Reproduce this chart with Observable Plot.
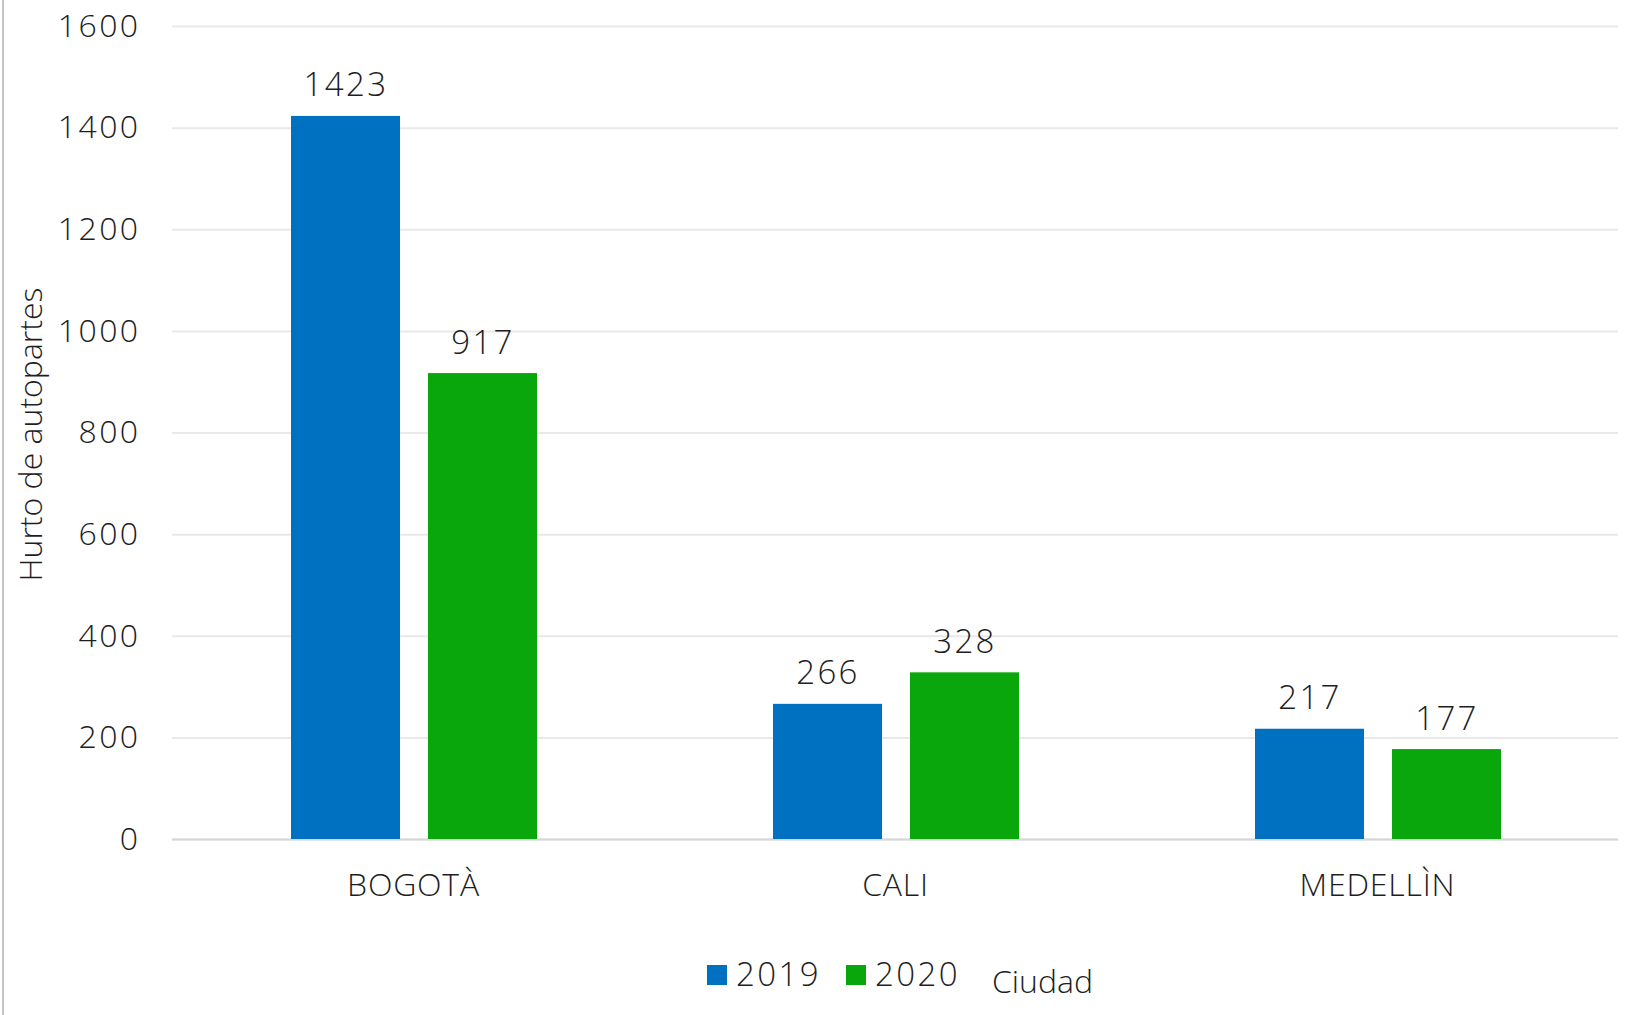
<!DOCTYPE html>
<html>
<head>
<meta charset="utf-8">
<script src="https://cdn.jsdelivr.net/npm/d3@7"></script>
<script src="https://cdn.jsdelivr.net/npm/@observablehq/plot@0.6"></script>
<style>
  html, body { margin: 0; padding: 0; background: #fff; }
  #wrap { position: relative; width: 1634px; height: 1015px; overflow: hidden; font-family: "Open Sans", sans-serif; font-weight: 300; }
  #frame { position: absolute; left: 2px; top: 0; width: 2px; height: 1015px; background: #c4c4c4; }
  #chart { position: absolute; left: 0; top: 0; }
  #legend { position: absolute; left: 0; top: 940px; }
  svg text { font-family: "Open Sans", sans-serif; font-weight: 300; }
</style>
</head>
<body>
<div id="wrap">
  <div id="frame"></div>
  <div id="chart"></div>
  <svg id="legend" width="1634" height="75"></svg>
</div>
<script>
const cities = ["BOGOTÀ", "CALI", "MEDELLÌN"];
const years = ["2019", "2020"];
const values2019 = [1423, 266, 217];
const values2020 = [917, 328, 177];
const yTicks = [0, 200, 400, 600, 800, 1000, 1200, 1400, 1600];
const colors = ["#0070c0", "#09a70c"];
const yLabel = "Hurto de autopartes";
const xTitle = "Ciudad";

const data = [];
cities.forEach((c, i) => {
  data.push({city: c, year: years[0], value: values2019[i]});
  data.push({city: c, year: years[1], value: values2020[i]});
});

const textColor = "#1e1e1e";

const chart = Plot.plot({
  width: 1634,
  height: 940,
  marginLeft: 172,
  marginRight: 16,
  marginTop: 26,
  marginBottom: 101,
  style: {fontFamily: "Open Sans, sans-serif", fontWeight: 300, color: textColor, background: "transparent"},
  fx: {domain: cities, padding: 0, axis: null, label: null},
  x: {domain: years, paddingInner: 0.2065, paddingOuter: 0.85, axis: null, label: null},
  y: {domain: [0, 1600], axis: null, label: null},
  color: {domain: years, range: colors},
  marks: [
    Plot.gridY(yTicks, {stroke: "#e9e9e9", strokeOpacity: 1, strokeWidth: 2}),
    Plot.ruleY([0], {stroke: "#d6d6d6", strokeWidth: 2}),
    Plot.barY(data, {fx: "city", x: "year", y: "value", fill: "year", dx: 1}),
    Plot.text(data, {fx: "city", x: "year", y: "value", text: d => String(d.value),
      dy: -20, dx: 1, lineAnchor: "bottom", fontSize: 33, fill: textColor}),
    Plot.axisY({ticks: yTicks, tickFormat: d => String(d), tickSize: 0, tickPadding: 32, fontSize: 32, label: null, fill: textColor}),
    Plot.axisFx({anchor: "bottom", tickSize: 0, tickPadding: 34, fontSize: 32, label: null, fill: textColor})
  ]
});
document.getElementById("chart").appendChild(chart);

const svg = d3.select(chart);
svg.selectAll('g[aria-label="y-axis tick label"] text').style("letter-spacing", "2.4px");
svg.selectAll('g[aria-label="text"] text').style("letter-spacing", "2.4px");
svg.selectAll('g[aria-label="fx-axis tick label"] text').style("letter-spacing", "0.8px");

// y axis title (rotated), centered on plot frame
svg.append("text")
  .attr("transform", `translate(42, ${(26 + 839) / 2 + 2}) rotate(-90)`)
  .attr("text-anchor", "middle")
  .attr("font-size", 32)
  .attr("fill", textColor)
  .text(yLabel);

// legend
const leg = d3.select("#legend");
const legX = [707, 846];
years.forEach((y, i) => {
  leg.append("rect").attr("x", legX[i]).attr("y", 25).attr("width", 20).attr("height", 20).attr("fill", colors[i]);
  leg.append("text").attr("x", legX[i] + 29).attr("y", 46).attr("font-size", 33)
    .attr("fill", textColor).style("letter-spacing", "2.4px").text(y);
});
leg.append("text").attr("x", 992).attr("y", 53).attr("font-size", 32).attr("fill", textColor).text(xTitle);
</script>
</body>
</html>
